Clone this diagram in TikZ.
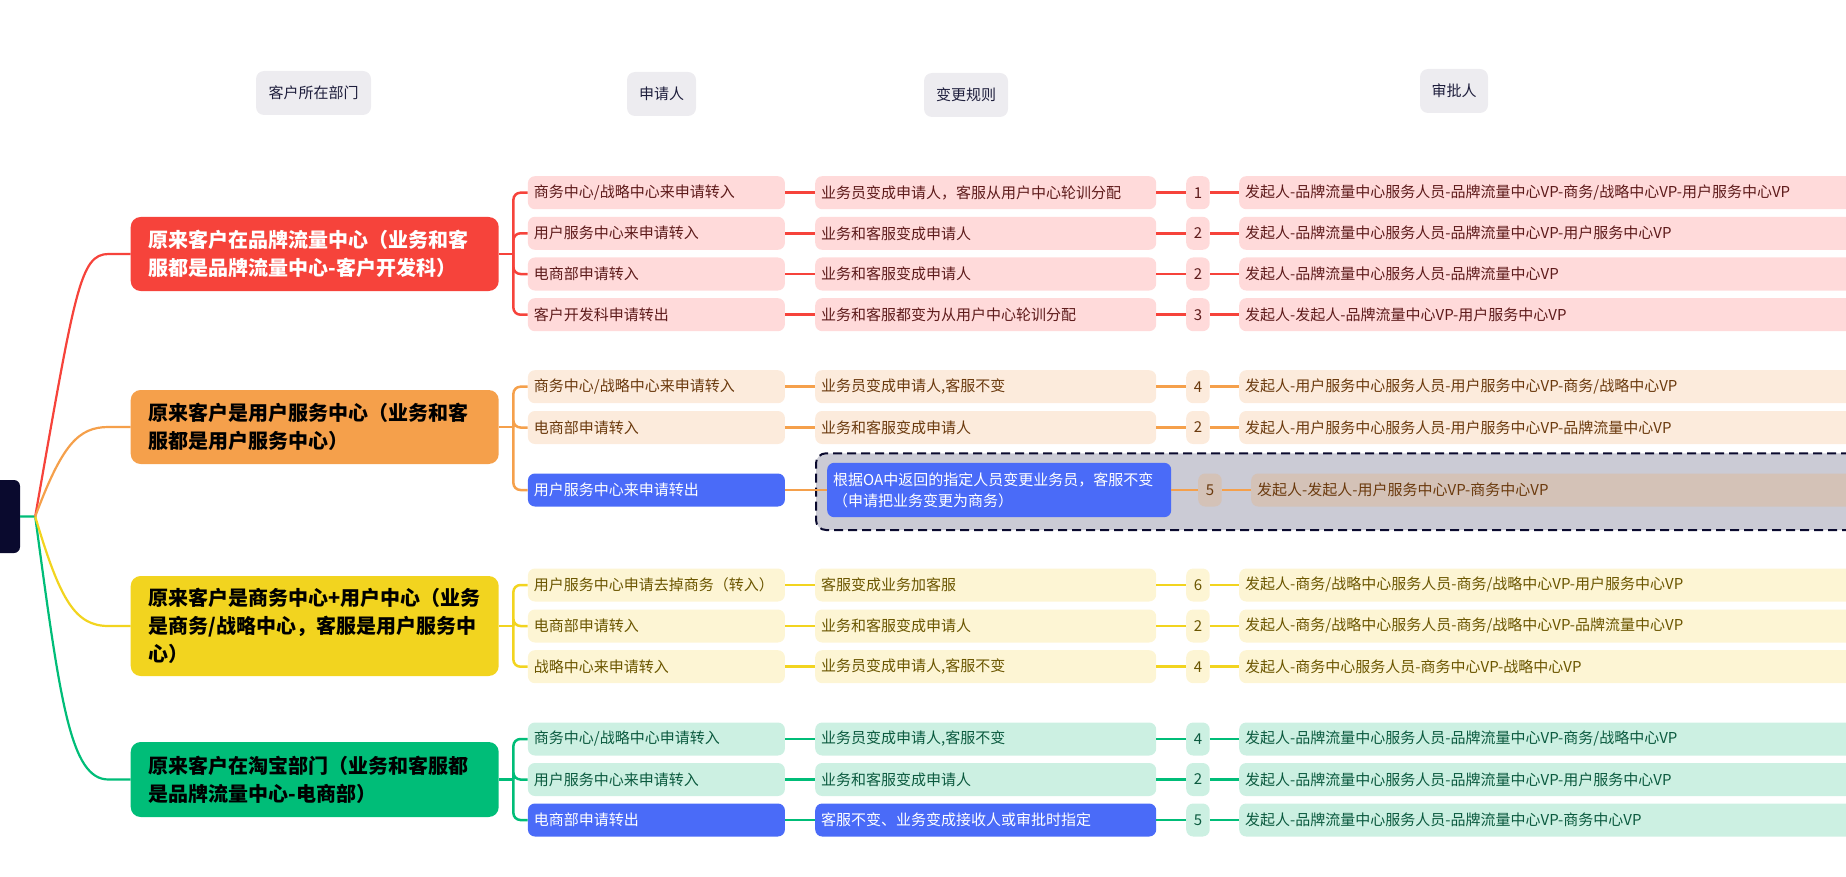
\documentclass[tikz,border=0pt]{standalone}
\usepackage{fontspec}
\setmainfont{Noto Sans CJK SC}
\newcommand\fsz[2]{\fontsize{#1}{#2}\selectfont}
\definecolor{redM}{HTML}{F6433B}
\definecolor{orangeM}{HTML}{F5A04B}
\definecolor{yellowM}{HTML}{F2D41F}
\definecolor{greenM}{HTML}{00BD78}
\definecolor{redL}{HTML}{FFDADA}
\definecolor{orangeL}{HTML}{FCEBDC}
\definecolor{yellowL}{HTML}{FDF5D4}
\definecolor{greenL}{HTML}{CCF0E2}
\definecolor{redT}{HTML}{5E1B1B}
\definecolor{orangeT}{HTML}{6B3A0E}
\definecolor{yellowT}{HTML}{6B5600}
\definecolor{greenT}{HTML}{0B5A3F}
\definecolor{blueB}{HTML}{4A6BF8}
\definecolor{dashF}{HTML}{CBCBD5}
\definecolor{dashN}{HTML}{D4C2B7}
\definecolor{navy}{HTML}{0A0A2E}
\definecolor{hdrF}{HTML}{EDECF0}
\definecolor{hdrT}{HTML}{1E1E3C}
\newcommand\lncol{redM}
\newcommand\prow[9]{%
  \node[appl,#3] (#1a) at (527.7,#2) {#6};
  \node[rulex,#4] (#1r) at (815,#2) {#7};
  \node[numx,#5] (#1n) at (1186,#2) {#8};
  \node[aprx,#5] (#1p) at (1239,#2) {#9};
  \draw[conn,draw=\lncol] (#1a.east) -- (#1r.west);
  \draw[conn,draw=\lncol] (#1r.east) -- (#1n.west);
  \draw[conn,draw=\lncol] (#1n.east) -- (#1p.west);
}
\begin{document}
\begin{tikzpicture}[x=1pt,y=-1pt,
  hdr/.style={fill=hdrF, rounded corners=8pt, text=hdrT, font=\fsz{15}{18}, inner sep=0pt, minimum height=44pt},
  mbox/.style={rounded corners=10pt, anchor=west, text width=332pt, inner xsep=18pt, inner ysep=0pt, align=left, font=\bfseries\fsz{20}{28}},
  appl/.style={rounded corners=7pt, anchor=west, minimum height=33pt, inner xsep=6pt, inner ysep=0pt, text width=245pt, align=left, font=\fsz{15}{21}},
  rulex/.style={appl, text width=329pt},
  numx/.style={rounded corners=7pt, anchor=west, minimum height=33pt, minimum width=23.5pt, inner sep=0pt, font=\fsz{15}{21}},
  aprx/.style={appl, text width=620pt},
  gR/.style={fill=redL, text=redT},
  gO/.style={fill=orangeL, text=orangeT},
  gY/.style={fill=yellowL, text=yellowT},
  gG/.style={fill=greenL, text=greenT},
  blu/.style={fill=blueB, text=white},
  conn/.style={line width=2.5pt},
  mline/.style={line width=2.2pt},
]
\useasboundingbox (0,0) rectangle (1846,877);
\clip (0,0) rectangle (1846,877);

% headers
\node[hdr, minimum width=115pt] (h1) at (313.5,93) {客户所在部门};
\node[hdr, minimum width=69pt] (h2) at (661.5,94) {申请人};
\node[hdr, minimum width=84pt] (h3) at (966,95) {变更规则};
\node[hdr, minimum width=68pt] (h4) at (1454,91) {审批人};

% root
\node[fill=navy, rounded corners=6pt, minimum width=30pt, minimum height=73pt, inner sep=0pt] (root) at (5,516.5) {};
\coordinate (rj) at ([xshift=15pt]root.east);

% main nodes
\node[mbox, fill=redM, text=white, minimum height=74pt] (mR) at (130.5,254)
  {原来客户在品牌流量中心（业务和客\\服都是品牌流量中心-客户开发科）};
\node[mbox, fill=orangeM, text=black, minimum height=74pt] (mO) at (130.5,427)
  {原来客户是用户服务中心（业务和客\\服都是用户服务中心）};
\node[mbox, fill=yellowM, text=black, minimum height=100pt] (mY) at (130.5,626)
  {原来客户是商务中心+用户中心（业务\\是商务/战略中心，客服是用户服务中\\心）};
\node[mbox, fill=greenM, text=black, minimum height=75pt] (mG) at (130.5,779.5)
  {原来客户在淘宝部门（业务和客服都\\是品牌流量中心-电商部）};

% root curves
\draw[mline, draw=greenM] (root.east) -- (rj) .. controls (60,700) and (70,779.5) .. ([xshift=-22pt]mG.west) -- (mG.west);
\draw[mline, draw=redM] (rj) .. controls (75,290) and (80,254) .. ([xshift=-22pt]mR.west) -- (mR.west);
\draw[mline, draw=orangeM] (rj) .. controls (62,445) and (78,427) .. ([xshift=-22pt]mO.west) -- (mO.west);
\draw[mline, draw=yellowM] (rj) .. controls (60,600) and (75,626) .. ([xshift=-22pt]mY.west) -- (mY.west);

% red group
\renewcommand\lncol{redM}
\prow{R1}{192.7}{gR}{gR}{gR}{商务中心/战略中心来申请转入}{业务员变成申请人，客服从用户中心轮训分配}{1}{发起人-品牌流量中心服务人员-品牌流量中心VP-商务/战略中心VP-用户服务中心VP}
\prow{R2}{233.3}{gR}{gR}{gR}{用户服务中心来申请转入}{业务和客服变成申请人}{2}{发起人-品牌流量中心服务人员-品牌流量中心VP-用户服务中心VP}
\prow{R3}{274}{gR}{gR}{gR}{电商部申请转入}{业务和客服变成申请人}{2}{发起人-品牌流量中心服务人员-品牌流量中心VP}
\prow{R4}{314.7}{gR}{gR}{gR}{客户开发科申请转出}{业务和客服都变为从用户中心轮训分配}{3}{发起人-发起人-品牌流量中心VP-用户服务中心VP}
\coordinate (jR) at ([xshift=14.5pt]mR.east);
\draw[conn, draw=redM] (mR.east) -- (jR);
\foreach \r in {R1a,R2a,R3a,R4a} \draw[conn, draw=redM, rounded corners=7pt] (jR) |- (\r.west);

% orange group
\renewcommand\lncol{orangeM}
\prow{O1}{386.7}{gO}{gO}{gO}{商务中心/战略中心来申请转入}{业务员变成申请人,客服不变}{4}{发起人-用户服务中心服务人员-用户服务中心VP-商务/战略中心VP}
\prow{O2}{427.5}{gO}{gO}{gO}{电商部申请转入}{业务和客服变成申请人}{2}{发起人-用户服务中心服务人员-用户服务中心VP-品牌流量中心VP}
\node[fill=dashF, draw=navy, line width=2pt, dash pattern=on 9pt off 5pt, rounded corners=10pt, anchor=north west, minimum width=1100pt, minimum height=76.7pt, inner sep=0pt] (dsh) at (815,452.3) {};
\node[appl, blu] (O3a) at (527.7,490) {用户服务中心来申请转出};
\node[rulex, blu, text width=332pt, minimum height=54.4pt] (O3r) at (827,490)
  {根据OA中返回的指定人员变更业务员，客服不变\\（申请把业务变更为商务）};
\node[numx, fill=dashN, text=orangeT] (O3n) at (1198,490) {5};
\node[aprx, fill=dashN, text=orangeT] (O3p) at (1251,490) {发起人-发起人-用户服务中心VP-商务中心VP};
\draw[conn, draw=orangeM] (O3a.east) -- (O3r.west);
\draw[conn, draw=orangeM] (O3r.east) -- (O3n.west);
\draw[conn, draw=orangeM] (O3n.east) -- (O3p.west);
\coordinate (jO) at ([xshift=14.5pt]mO.east);
\draw[conn, draw=orangeM] (mO.east) -- (jO);
\foreach \r in {O1a,O2a,O3a} \draw[conn, draw=orangeM, rounded corners=7pt] (jO) |- (\r.west);

% yellow group
\renewcommand\lncol{yellowM}
\prow{Y1}{585}{gY}{gY}{gY}{用户服务中心申请去掉商务（转入）}{客服变成业务加客服}{6}{发起人-商务/战略中心服务人员-商务/战略中心VP-用户服务中心VP}
\prow{Y2}{626}{gY}{gY}{gY}{电商部申请转入}{业务和客服变成申请人}{2}{发起人-商务/战略中心服务人员-商务/战略中心VP-品牌流量中心VP}
\prow{Y3}{666.7}{gY}{gY}{gY}{战略中心来申请转入}{业务员变成申请人,客服不变}{4}{发起人-商务中心服务人员-商务中心VP-战略中心VP}
\coordinate (jY) at ([xshift=14.5pt]mY.east);
\draw[conn, draw=yellowM] (mY.east) -- (jY);
\foreach \r in {Y1a,Y2a,Y3a} \draw[conn, draw=yellowM, rounded corners=7pt] (jY) |- (\r.west);

% green group
\renewcommand\lncol{greenM}
\prow{G1}{739}{gG}{gG}{gG}{商务中心/战略中心申请转入}{业务员变成申请人,客服不变}{4}{发起人-品牌流量中心服务人员-品牌流量中心VP-商务/战略中心VP}
\prow{G2}{779.5}{gG}{gG}{gG}{用户服务中心来申请转入}{业务和客服变成申请人}{2}{发起人-品牌流量中心服务人员-品牌流量中心VP-用户服务中心VP}
\prow{G3}{820}{blu}{blu}{gG}{电商部申请转出}{客服不变、业务变成接收人或审批时指定}{5}{发起人-品牌流量中心服务人员-品牌流量中心VP-商务中心VP}
\coordinate (jG) at ([xshift=14.5pt]mG.east);
\draw[conn, draw=greenM] (mG.east) -- (jG);
\foreach \r in {G1a,G2a,G3a} \draw[conn, draw=greenM, rounded corners=7pt] (jG) |- (\r.west);
\end{tikzpicture}
\end{document}
